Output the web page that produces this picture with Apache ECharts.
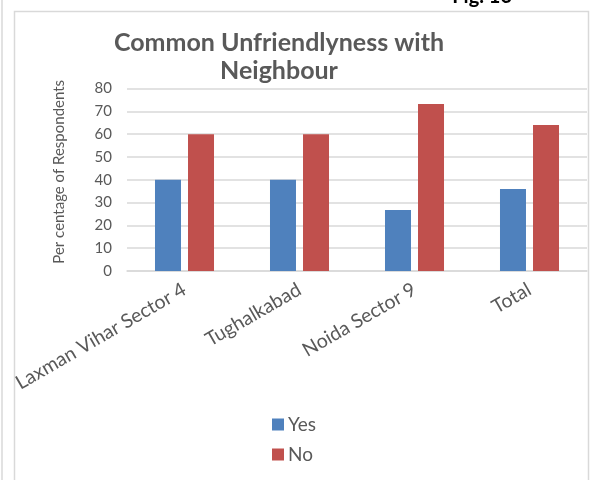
<!DOCTYPE html>
<html>
<head>
<meta charset="utf-8">
<script src="https://cdn.jsdelivr.net/npm/echarts@6/dist/echarts.min.js"></script>
<style>
html,body{margin:0;padding:0;background:#fff;}
#chart{width:597px;height:480px;}
</style>
</head>
<body>
<div id="chart"></div>
<script>
const categories = ['Laxman Vihar Sector 4', 'Tughalkabad', 'Noida Sector 9', 'Total'];
const yesValues = [40, 40, 26.7, 36];
const noValues = [60, 60, 73.3, 64];
const seriesNames = ['Yes', 'No'];
const yTicks = [0, 10, 20, 30, 40, 50, 60, 70, 80];
const titleText = 'Common Unfriendlyness with\nNeighbour';
const yAxisTitle = 'Per centage of Respondents';
const figText = 'Fig. 16';

const FONT = 'Lato, "Liberation Sans", sans-serif';
const GREY = '#595959';

const chart = echarts.init(document.getElementById('chart'));
chart.setOption({
  animation: false,
  backgroundColor: '#ffffff',
  title: {
    text: titleText,
    left: 274,
    top: 24,
    textAlign: 'center',
    textStyle: { fontFamily: FONT, fontSize: 25, fontWeight: 'bold', color: GREY, lineHeight: 28 }
  },
  graphic: [
    { type: 'rect', shape: { x: 14.5, y: 11.5, width: 574, height: 480 }, style: { fill: 'none', stroke: '#d9d9d9', lineWidth: 1.5 }, silent: true },
    { type: 'line', shape: { x1: 2, y1: 0, x2: 2, y2: 480 }, style: { stroke: '#d9d9d9', lineWidth: 1.5 }, silent: true },
    { type: 'text', x: 512, y: 7, style: { text: figText, fill: '#000', font: 'bold 20px ' + FONT, textAlign: 'right', textVerticalAlign: 'bottom' }, silent: true }
  ],
  legend: {
    orient: 'vertical',
    left: 272,
    top: 415,
    padding: 0,
    itemWidth: 12,
    itemHeight: 12,
    itemGap: 11,
    icon: 'rect',
    data: seriesNames,
    textStyle: { fontFamily: FONT, fontSize: 19, color: GREY, padding: [0, 0, 0, -1] }
  },
  grid: { left: 127, right: 10, top: 88.6, bottom: 209 },
  xAxis: {
    type: 'category',
    data: categories,
    axisTick: { show: false },
    axisLine: { show: true, lineStyle: { color: '#d9d9d9', width: 1.5 } },
    axisLabel: { rotate: 30, margin: 17, fontFamily: FONT, fontSize: 19.5, color: GREY, interval: 0 }
  },
  yAxis: {
    type: 'value',
    min: yTicks[0],
    max: yTicks[yTicks.length - 1],
    interval: yTicks[1] - yTicks[0],
    name: yAxisTitle,
    nameLocation: 'middle',
    nameGap: 60,
    nameTextStyle: { fontFamily: FONT, fontSize: 15, color: GREY, padding: [0, 0, 0, 16] },
    axisLine: { show: false },
    axisTick: { show: false },
    axisLabel: { margin: 15, fontFamily: FONT, fontSize: 15, color: GREY },
    splitLine: { lineStyle: { color: '#d9d9d9', width: 1.5 } }
  },
  series: [
    { name: seriesNames[0], type: 'bar', data: yesValues, barWidth: 26, barGap: '27%', itemStyle: { color: '#4f81bd' } },
    { name: seriesNames[1], type: 'bar', data: noValues, barWidth: 26, barGap: '27%', itemStyle: { color: '#c0504d' } }
  ]
});
</script>
</body>
</html>
